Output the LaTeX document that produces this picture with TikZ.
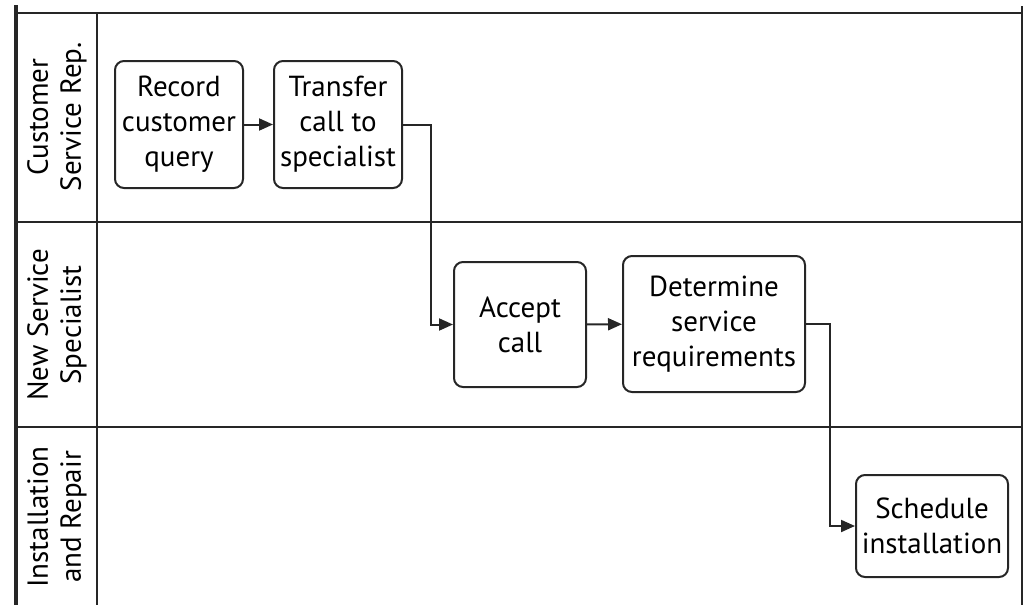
\documentclass[tikz,border=0pt]{standalone}
\usepackage{fontspec}
\setmainfont{PT Sans}
\usetikzlibrary{arrows.meta}
\begin{document}
\begin{tikzpicture}[x=1pt,y=-1pt,
  lane/.style={draw=black!85,line width=2pt},
  task/.style={draw=black!85,line width=2pt,rounded corners=9pt,align=center,
    font=\fontsize{29}{35}\selectfont,inner sep=0pt},
  flow/.style={draw=black!85,line width=2pt,-{Triangle[length=14pt,width=12pt]}},
  lanelabel/.style={rotate=90,align=center,font=\fontsize{29}{33}\selectfont}]
\useasboundingbox (0,0) rectangle (1023,605);
% frame and lanes
\draw[black!85,line width=4.5pt] (16,5) -- (16,605);
\draw[lane] (16,13) -- (1022,13);
\draw[lane] (1022,6) -- (1022,605);
\draw[lane] (97,13) -- (97,605);
\draw[lane] (16,222) -- (1022,222);
\draw[lane] (16,427) -- (1022,427);
% lane titles
\node[lanelabel] (l1) at (57,117) {Customer\\Service Rep.};
\node[lanelabel] (l2) at (57,325) {New Service\\Specialist};
\node[lanelabel] (l3) at (57,517) {Installation\\and Repair};
% tasks
\node[task,minimum width=128pt,minimum height=127pt] (rec) at (179,124.5) {Record\\customer\\query};
\node[task,minimum width=128pt,minimum height=127pt] (tra) at (338,124.5) {Transfer\\call to\\specialist};
\node[task,minimum width=132pt,minimum height=125pt] (acc) at (520,324.5) {Accept\\call};
\node[task,minimum width=182pt,minimum height=136pt] (det) at (714,324) {Determine\\service\\requirements};
\node[task,minimum width=152pt,minimum height=102pt] (sch) at (932,526) {Schedule\\installation};
% connectors
\coordinate (b1) at (431,124.5);
\coordinate (b2) at (830,324);
\draw[flow] (rec) -- (tra);
\draw[flow] (tra.east) -- (b1) |- (acc.west);
\draw[flow] (acc) -- (det);
\draw[flow] (det.east) -- (b2) |- (sch.west);
\end{tikzpicture}
\end{document}
